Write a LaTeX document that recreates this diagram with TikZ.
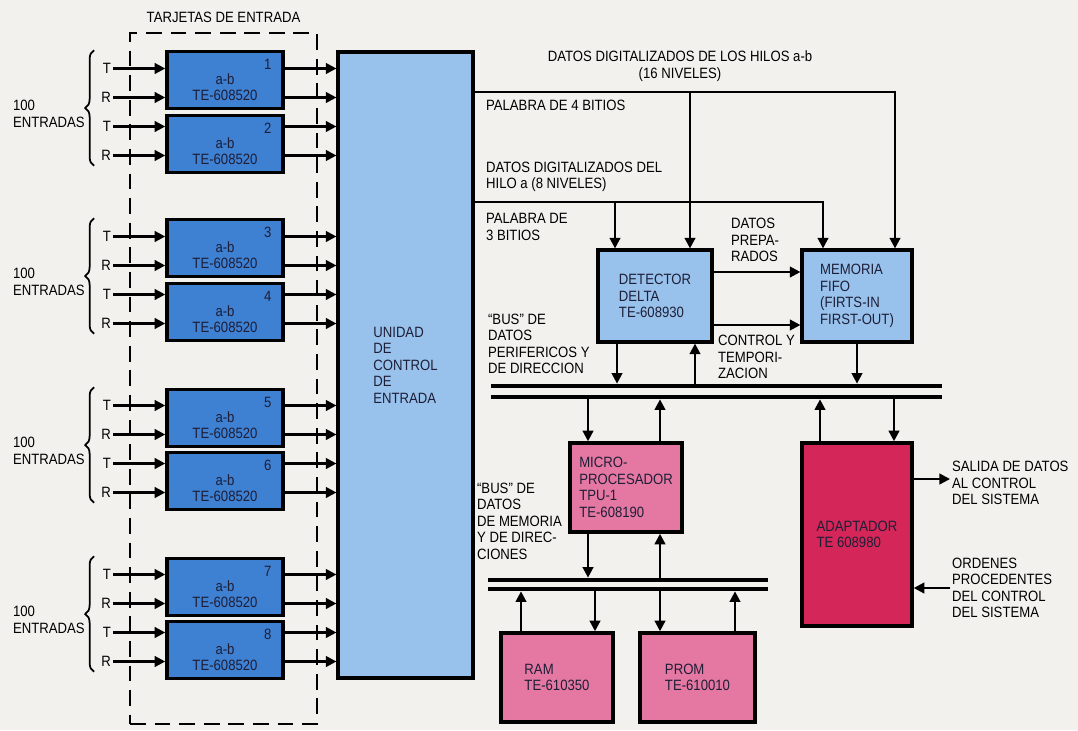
\documentclass[tikz,border=0pt]{standalone}
\usepackage{xcolor}
\usepackage{fontspec}
\setmainfont{Liberation Sans}[FakeStretch=0.88]
\usepackage{tikz}
\usetikzlibrary{arrows.meta, positioning, decorations.pathreplacing}
\definecolor{cardblue}{RGB}{62,128,210}
\definecolor{paleblue}{RGB}{152,194,236}
\definecolor{rosa}{RGB}{228,120,162}
\definecolor{crimson}{RGB}{212,38,88}
\definecolor{paper}{RGB}{243,241,237}
\definecolor{boxtext}{RGB}{30,30,55}
\newcommand{\lblfont}{\fontsize{8.5pt}{9.4pt}\selectfont}
\newcommand{\boxfont}{\fontsize{8.5pt}{9.4pt}\selectfont\color{boxtext}}

\begin{document}
\begin{tikzpicture}[
    x=0.02cm, y=-0.02cm,
    card/.style={draw, line width=2pt, fill=cardblue, minimum width=2.32cm,
                 minimum height=1.14cm, align=center, font=\boxfont,
                 inner sep=0pt},
    num/.style={anchor=north east, font=\boxfont, inner sep=0pt,
                xshift=-0.26cm, yshift=-0.18cm},
    unit/.style={draw, line width=1.8pt, fill=paleblue, align=left,
                 font=\boxfont},
    pinkbox/.style={draw, line width=2pt, fill=rosa, align=left,
                    font=\boxfont},
    bus/.style={fill=black, inner sep=0pt, minimum height=0.08cm},
    arrow/.style={-{Triangle[length=6pt, width=6pt]}, line width=1.3pt},
    lbl/.style={font=\lblfont, align=left, inner sep=1pt},
    tr/.style={font=\lblfont, inner sep=1pt, anchor=east},
    brace/.style={decorate, decoration={brace, amplitude=5pt}, line width=1pt},
    dashbox/.style={draw, dash pattern=on 9pt off 5pt, line width=1.1pt,
                    minimum width=3.74cm, minimum height=13.82cm},
]
    \useasboundingbox (0,0) rectangle (1078,730);
    \fill[paper] (0,0) rectangle (1078,730);

    % input cards
    \node[dashbox] (tarjetas) at (223.5,378.5) {};
    \node[lbl, above=4pt of tarjetas] (ttarj) {TARJETAS DE ENTRADA};
    \foreach \n/\yy in {1/80,2/144,3/248,4/312,5/418,6/481,7/587,8/650}
        \node[card, label={[num]north east:\n}] (c\n) at (225,\yy)
            {\rule{0pt}{0.5cm}a-b\\TE-608520};

    \node[unit, minimum width=2.7cm, minimum height=12.52cm] (ctrl)
        at (405.5,365) {UNIDAD\\DE\\CONTROL\\DE\\ENTRADA};

    \foreach \k/\yy/\s/\n in {1/68.5/T/1, 2/97.5/R/1, 3/126.5/T/2,
            4/155.5/R/2, 5/236.5/T/3, 6/265.5/R/3, 7/294.5/T/4, 8/323.5/R/4,
            9/405.5/T/5, 10/434.5/R/5, 11/463.5/T/6, 12/492.5/R/6,
            13/574.5/T/7, 14/603.5/R/7, 15/632.5/T/8, 16/661.5/R/8} {
        \node[tr] (w\k) at (113,\yy) {\s};
        \draw[arrow] (w\k.east) -- (w\k.east -| c\n.west);
        \draw[arrow] (c\n.east |- w\k.east) -- (ctrl.west |- w\k.east);
    }

    \foreach \p/\a/\b/\cy in {1/1/4/112, 2/5/8/280, 3/9/12/449, 4/13/16/618} {
        \draw[brace] ([xshift=-3pt, yshift=-0.06cm]w\b.south west)
            -- ([xshift=-3pt, yshift=0.22cm]w\b.west |- w\a.north);
        \node[lbl, anchor=west] (ent\p) at (11,\cy+2) {100\\ENTRADAS};
    }

    % processing blocks
    \node[unit, minimum width=2.28cm, minimum height=1.84cm] (det)
        at (655,296) {DETECTOR\\DELTA\\TE-608930};
    \node[unit, minimum width=2.2cm, minimum height=1.84cm] (fifo)
        at (857,296) {MEMORIA\\FIFO\\(FIRTS-IN\\FIRST-OUT)};
    \node[pinkbox, minimum width=2.24cm, minimum height=1.78cm] (micro)
        at (626,487.5) {MICRO-\\PROCESADOR\\TPU-1\\TE-608190};
    \node[pinkbox, minimum width=2.24cm, minimum height=1.78cm] (ram)
        at (557,677.5) {RAM\\TE-610350};
    \node[pinkbox, minimum width=2.3cm, minimum height=1.78cm] (prom)
        at (697.5,677.5) {PROM\\TE-610010};
    \node[pinkbox, fill=crimson, minimum width=2.2cm, minimum height=3.66cm]
        (adp) at (857,534.5) {ADAPTADOR\\TE 608980};

    \node[bus, minimum width=9.02cm] (busp) at (716.5,386) {};
    \node[bus, minimum width=9.02cm] (busq) at (716.5,397) {};
    \node[bus, minimum width=5.6cm] (busm) at (628,580) {};
    \node[bus, minimum width=5.6cm] (busn) at (628,589) {};

    % digitised data lines
    \coordinate (hab) at (895,92);
    \coordinate (dab) at (690,92);
    \coordinate (ha) at (823,202);
    \coordinate (da) at (615,202);
    \draw[arrow] (ctrl.east |- hab) -| (hab |- fifo.north);
    \draw[arrow] (dab) -- (dab |- det.north);
    \draw[arrow] (ctrl.east |- ha) -| (ha |- fifo.north);
    \draw[arrow] (da) -- (da |- det.north);

    \draw[arrow] ([yshift=0.48cm]det.east) -- ([yshift=0.48cm]fifo.west);
    \draw[arrow] ([yshift=-0.58cm]det.east) -- ([yshift=-0.58cm]fifo.west);

    % peripheral bus
    \draw[arrow] ([xshift=-0.76cm]det.south) -- ([xshift=-0.76cm]det.south |- busp.north);
    \draw[arrow] ([xshift=0.8cm]det.south |- busp.north) -- ([xshift=0.8cm]det.south);
    \draw[arrow] (fifo.south) -- (fifo.south |- busp.north);
    \draw[arrow] ([xshift=-0.76cm]micro.north |- busq.south) -- ([xshift=-0.76cm]micro.north);
    \draw[arrow] ([xshift=0.68cm]micro.north) -- ([xshift=0.68cm]micro.north |- busq.south);
    \draw[arrow] ([xshift=-0.74cm]adp.north) -- ([xshift=-0.74cm]adp.north |- busq.south);
    \draw[arrow] ([xshift=0.74cm]adp.north |- busq.south) -- ([xshift=0.74cm]adp.north);

    % memory bus
    \draw[arrow] ([xshift=-0.76cm]micro.south) -- ([xshift=-0.76cm]micro.south |- busm.north);
    \draw[arrow] ([xshift=0.68cm]micro.south |- busm.north) -- ([xshift=0.68cm]micro.south);
    \draw[arrow] ([xshift=-0.72cm]ram.north) -- ([xshift=-0.72cm]ram.north |- busn.south);
    \draw[arrow] ([xshift=0.76cm]ram.north |- busn.south) -- ([xshift=0.76cm]ram.north);
    \draw[arrow] ([xshift=-0.75cm]prom.north |- busn.south) -- ([xshift=-0.75cm]prom.north);
    \draw[arrow] ([xshift=0.75cm]prom.north) -- ([xshift=0.75cm]prom.north |- busn.south);

    % labels
    \node[lbl, align=center] (lhilos) at (680,66)
        {DATOS DIGITALIZADOS DE LOS HILOS a-b\\(16 NIVELES)};
    \node[lbl, anchor=west] (lp4) at (484,105) {PALABRA DE 4 BITIOS};
    \node[lbl, anchor=west] (lhiloa) at (484,177)
        {DATOS DIGITALIZADOS DEL\\HILO a (8 NIVELES)};
    \node[lbl, anchor=west] (lp3) at (484,227) {PALABRA DE\\3 BITIOS};
    \node[lbl, anchor=west] (lprep) at (729,240) {DATOS\\PREPA-\\RADOS};
    \node[lbl, anchor=west] (lctl) at (716,357) {CONTROL Y\\TEMPORI-\\ZACION};
    \node[lbl, anchor=west] (lbusp) at (486,344)
        {``BUS'' DE\\DATOS\\PERIFERICOS Y\\DE DIRECCION};
    \node[lbl, anchor=west] (lbusm) at (475,521)
        {``BUS'' DE\\DATOS\\DE MEMORIA\\Y DE DIREC-\\CIONES};
    \node[lbl, anchor=west] (lsal) at (950,483)
        {SALIDA DE DATOS\\AL CONTROL\\DEL SISTEMA};
    \node[lbl, anchor=west] (lord) at (950,588)
        {ORDENES\\PROCEDENTES\\DEL CONTROL\\DEL SISTEMA};

    \draw[arrow] ([yshift=1.11cm]adp.east) -- ([yshift=1.11cm]adp.east -| lsal.west);
    \draw[arrow] (lord.west) -- (lord.west -| adp.east);
\end{tikzpicture}
\end{document}
